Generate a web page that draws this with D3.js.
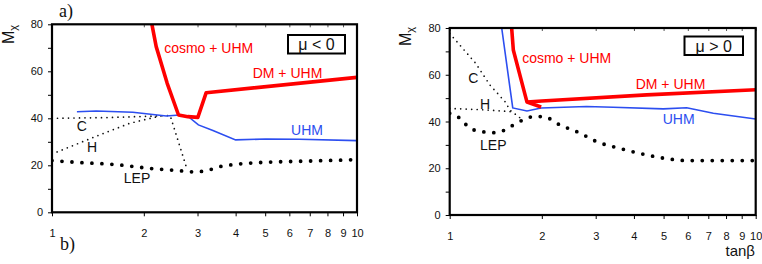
<!DOCTYPE html>
<html>
<head>
<meta charset="utf-8">
<script src="https://cdn.jsdelivr.net/npm/d3@7"></script>
<style>
  body { margin: 0; background: #fff; }
  svg { display: block; font-family: "Liberation Sans", Arial, sans-serif; }
  .tick text { font-size: 11px; fill: #111; }
  .lbl { font-size: 14px; }
</style>
</head>
<body>
<svg id="chart" width="762" height="264"></svg>
<script>
  var xTicks, yTicks, yLabels, leftRed, leftBlue, leftLEP, leftC, leftH,
      rightCosmo, rightDM, rightBlue, rightLEP, rightC, rightH, panels, svg, drawPanel;

  // tan(beta) ticks and M_chi ticks
  xTicks = [1, 2, 3, 4, 5, 6, 7, 8, 9, 10];
  yTicks = [0, 10, 20, 30, 40, 50, 60, 70, 80];
  yLabels = [0, 20, 40, 60, 80];

  // panel a) mu < 0   [tanb, M]
  leftRed = [[2.126, 80], [2.196, 70.5], [2.386, 54.9], [2.599, 41.4], [2.789, 40.7], [3.007, 40.4], [3.203, 50.9], [10, 57.4]];
  leftBlue = [[1.207, 42.8], [1.397, 43.1], [1.84, 42.6], [2.37, 41.0], [2.62, 41.4], [2.82, 40.4], [3.02, 37.2], [3.37, 34.8], [4.0, 30.8], [5.03, 31.2], [6.47, 31.1], [10, 30.5]];
  leftLEP = [[1, 22], [1.26, 21.1], [1.62, 20.3], [2.09, 18.7], [2.62, 17.7], [2.9, 17.2], [3.2, 17.7], [3.54, 19.4], [4, 20.4], [5.03, 21.3], [6.47, 21.7], [10, 22.4]];
  leftC = [[1, 40], [1.5, 40.3], [2.0, 40.8], [2.44, 41.2], [2.78, 17.8]];
  leftH = [[1, 24.8], [1.43, 32.9], [1.8, 37.9], [2.3, 41.2]];

  // panel b) mu > 0
  rightCosmo = [[1.594, 80], [1.614, 70.6], [1.789, 48.3], [1.99, 46.2]];
  rightDM = [[1.789, 48.3], [2.0, 48.8], [4.4, 51.4], [10, 53.6]];
  rightBlue = [[1.479, 80], [1.607, 45.8], [1.789, 44.5], [1.99, 45.8], [2.8, 46.4], [3.42, 46.1], [4.99, 45.4], [5.95, 45.9], [7.27, 43.5], [10, 41.1]];
  rightLEP = [[1, 43.5], [1.08, 41.4], [1.165, 37.1], [1.272, 35.7], [1.389, 35.2], [1.516, 36.4], [1.615, 38.5], [1.74, 40.7], [1.877, 42.1], [2.02, 42.1], [2.295, 38.5], [2.67, 35.0], [3.02, 31.4], [3.6, 28.5], [4.4, 25.7], [5.0, 24.3], [5.95, 23.3], [7.27, 23.3], [10, 23.3]];
  rightC = [[1, 77.7], [1.216, 64.9], [1.354, 55.6], [1.516, 48.5], [1.574, 44.9], [1.7, 41.5]];
  rightH = [[1, 45.6], [1.3, 45.0], [1.6, 44.2]];

  svg = d3.select("#chart");

  panels = [
    {
      id: "a", x0: 52, x1: 357, y0: 24.3, y1: 212.3, mu: "\u03bc < 0",
      box: [288, 35, 57, 18.5], mLabel: [13.5, 44],
      red: [leftRed], blue: leftBlue, lep: leftLEP, c: leftC, h: leftH,
      labels: [
        ["cosmo + UHM", 208.7, 53.3, "red"], ["DM + UHM", 287.5, 78, "red"], ["UHM", 307, 135, "#2c4ef0"],
        ["C", 81.7, 130.7, "#111"], ["H", 92, 151.7, "#111"], ["LEP", 137, 182.7, "#111"]
      ]
    },
    {
      id: "b", x0: 449.7, x1: 755.7, y0: 28, y1: 215, mu: "\u03bc > 0",
      box: [684.5, 36.5, 58.5, 18.5], mLabel: [411, 46],
      red: [rightCosmo, rightDM], blue: rightBlue, lep: rightLEP, c: rightC, h: rightH,
      labels: [
        ["cosmo + UHM", 566.7, 63.3, "red"], ["DM + UHM", 670.5, 89.3, "red"], ["UHM", 678.7, 124, "#2c4ef0"],
        ["C", 473.3, 82.7, "#111"], ["H", 485, 109.3, "#111"], ["LEP", 493.3, 150, "#111"]
      ]
    }
  ];

  drawPanel = function(p) {
    var x, y, g, line, smooth, clipId;
    x = d3.scaleLog().domain([1, 10]).range([p.x0, p.x1]);
    y = d3.scaleLinear().domain([0, 80]).range([p.y1, p.y0]);
    g = svg.append("g");
    clipId = "clip-" + p.id;
    svg.append("clipPath").attr("id", clipId).append("rect")
      .attr("x", p.x0).attr("y", p.y0).attr("width", p.x1 - p.x0).attr("height", p.y1 - p.y0);

    line = d3.line().x(function(d) { return x(d[0]); }).y(function(d) { return y(d[1]); });
    smooth = d3.line().curve(d3.curveMonotoneX).x(function(d) { return x(d[0]); }).y(function(d) { return y(d[1]); });

    // axes
    g.append("g").attr("transform", "translate(0," + p.y1 + ")")
      .call(d3.axisBottom(x).tickValues(xTicks).tickFormat(d3.format("d")).tickSize(4).tickSizeOuter(0).tickPadding(13))
      .call(function(a) { a.select(".domain").remove(); });
    g.append("g").attr("transform", "translate(" + p.x0 + ",0)")
      .call(d3.axisLeft(y).tickValues(yTicks).tickFormat(function(d) { return yLabels.indexOf(d) >= 0 ? d : ""; }).tickSize(4).tickSizeOuter(0).tickPadding(5))
      .call(function(a) { a.select(".domain").remove(); });
    g.append("g").attr("transform", "translate(0," + p.y0 + ")")
      .call(d3.axisBottom(x).tickValues(xTicks).tickFormat("").tickSize(3).tickSizeOuter(0))
      .call(function(a) { a.select(".domain").remove(); a.selectAll("line").attr("stroke", "#555"); });
    g.selectAll(".tick line").attr("stroke-width", 1);

    var plot = g.append("g").attr("clip-path", "url(#" + clipId + ")");

    // small dotted C and H
    [p.c, p.h].forEach(function(d) {
      plot.append("path").attr("d", line(d)).attr("fill", "none").attr("stroke", "#111")
        .attr("stroke-width", 1.7).attr("stroke-linecap", "round").attr("stroke-dasharray", "0 5.5");
    });
    // LEP big dots
    plot.append("path").attr("d", smooth(p.lep)).attr("fill", "none").attr("stroke", "#000")
      .attr("stroke-width", 3.8).attr("stroke-linecap", "round").attr("stroke-dasharray", "0 10");
    // UHM
    plot.append("path").attr("d", line(p.blue)).attr("fill", "none").attr("stroke", "#2c4ef0").attr("stroke-width", 1.6);
    // cosmo / DM + UHM
    p.red.forEach(function(d) {
      plot.append("path").attr("d", line(d)).attr("fill", "none").attr("stroke", "#ff0000")
        .attr("stroke-width", 3.6).attr("stroke-linejoin", "round");
    });

    // frame
    g.append("rect").attr("x", p.x0).attr("y", p.y0).attr("width", p.x1 - p.x0).attr("height", p.y1 - p.y0)
      .attr("fill", "none").attr("stroke", "#000").attr("stroke-width", 2.2);

    // curve labels
    p.labels.forEach(function(l) {
      g.append("text").attr("class", "lbl").attr("x", l[1]).attr("y", l[2]).attr("text-anchor", "middle")
        .attr("fill", l[3]).text(l[0]);
    });

    // mu box
    g.append("rect").attr("x", p.box[0]).attr("y", p.box[1]).attr("width", p.box[2]).attr("height", p.box[3])
      .attr("fill", "#fff").attr("stroke", "#000").attr("stroke-width", 2);
    g.append("text").attr("x", p.box[0] + p.box[2] / 2).attr("y", p.box[1] + 15).attr("text-anchor", "middle")
      .style("font-size", "16px").attr("fill", "#111").text(p.mu);

    // M_chi
    var m = g.append("text").attr("transform", "translate(" + p.mLabel[0] + "," + p.mLabel[1] + ") rotate(-90)")
      .style("font-size", "16px").attr("fill", "#111");
    m.append("tspan").text("M");
    m.append("tspan").attr("dy", 3).style("font-size", "11px").text("\u03c7");
  };

  panels.forEach(drawPanel);

  svg.append("text").attr("x", 59).attr("y", 17).style("font-family", "'Liberation Serif', 'Times New Roman', serif")
    .style("font-size", "18px").attr("fill", "#111").text("a)");
  svg.append("text").attr("x", 60).attr("y", 250).style("font-family", "'Liberation Serif', 'Times New Roman', serif")
    .style("font-size", "18px").attr("fill", "#111").text("b)");
  svg.append("text").attr("x", 755).attr("y", 256).attr("text-anchor", "end")
    .style("font-size", "15px").attr("fill", "#111").text("tan\u03b2");
</script>
</body>
</html>
